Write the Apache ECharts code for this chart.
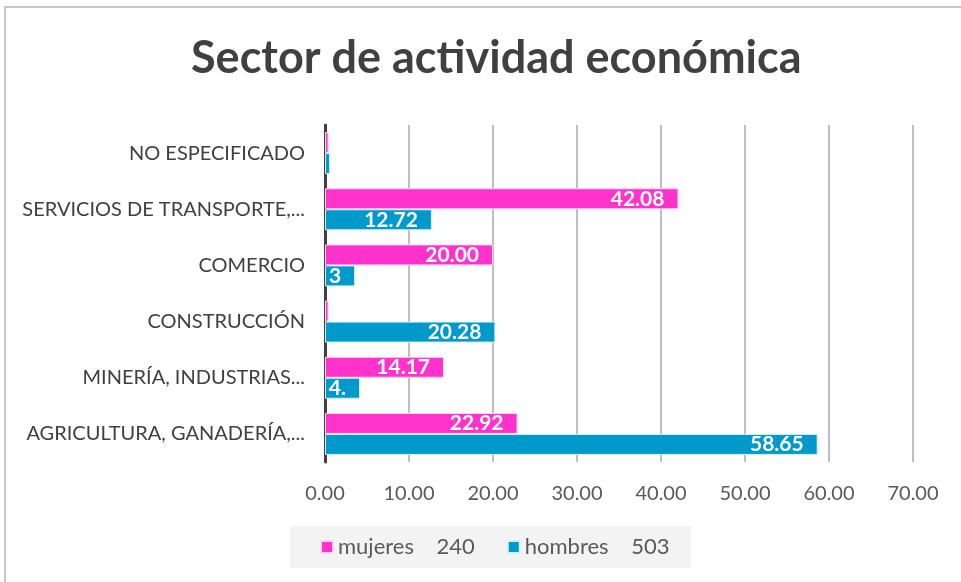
<!DOCTYPE html>
<html>
<head>
<meta charset="utf-8">
<script src="https://cdn.jsdelivr.net/npm/echarts@6/dist/echarts.min.js"></script>
<style>
  html, body { margin: 0; padding: 0; background: #fff; }
  #chart { width: 961px; height: 582px; }
</style>
</head>
<body>
<div id="chart"></div>
<script>
// sectors, bottom to top as on the axis
const sectores = [
  'AGRICULTURA, GANADERÍA,...',
  'MINERÍA, INDUSTRIAS...',
  'CONSTRUCCIÓN',
  'COMERCIO',
  'SERVICIOS DE TRANSPORTE,...',
  'NO ESPECIFICADO'
]
const mujeres = [22.92, 14.17, 0.42, 20.00, 42.08, 0.42]
const hombres = [58.65, 4.17, 20.28, 3.58, 12.72, 0.60]
const seriesNames = ['mujeres', 'hombres']
const totales = [240, 503]
const xTicks = [0, 10, 20, 30, 40, 50, 60, 70]

const FONT = 'Lato'
const gridLeft = 325
const gridRight = 48
const plotWidth = 961 - gridLeft - gridRight
const xMax = xTicks[xTicks.length - 1]

// excel cuts the label when it does not fit in the bar
const barData = (vals) => vals.map(v => ({
  value: v,
  label: {
    show: v >= 1,
    width: Math.max(v * plotWidth / xMax - 12, 0),
    overflow: 'truncate',
    ellipsis: ''
  }
}))

const chart = echarts.init(document.getElementById('chart'))

const labelStyle = {
  show: true,
  position: 'insideRight',
  distance: 14,
  color: '#fff',
  fontFamily: FONT,
  fontWeight: 'bold',
  fontSize: 21,
  align: 'right',
  formatter: p => p.value.toFixed(2)
}

const option = {
  animation: false,
  title: {
    text: 'Sector de actividad económica',
    left: 186,
    top: 31,
    textStyle: {
      fontFamily: FONT,
      fontWeight: 'bold',
      fontSize: 45,
      color: '#404040'
    }
  },
  graphic: [
    {
      type: 'rect',
      shape: { x: 5, y: 7, width: 1000, height: 620 },
      style: { fill: 'none', stroke: '#c8c8c8', lineWidth: 2 },
      silent: true
    }
  ],
  legend: {
    data: seriesNames,
    bottom: 14,
    left: 290,
    backgroundColor: '#f3f3f3',
    padding: [10, 22, 10, 30],
    icon: 'rect',
    itemWidth: 12,
    itemHeight: 12,
    itemGap: 32,
    formatter: name => name + '    ' + totales[seriesNames.indexOf(name)],
    textStyle: { fontFamily: FONT, fontSize: 22, color: '#595959' }
  },
  grid: {
    left: gridLeft,
    right: gridRight,
    top: 125,
    bottom: 120,
    containLabel: false
  },
  xAxis: {
    type: 'value',
    min: 0,
    max: xMax,
    interval: 10,
    axisLine: { show: false },
    axisTick: { show: false },
    splitLine: { lineStyle: { color: '#bfbfbf', width: 2 } },
    axisLabel: {
      margin: 22,
      fontFamily: FONT,
      fontSize: 20,
      color: '#595959',
      formatter: v => v.toFixed(2)
    }
  },
  yAxis: {
    type: 'category',
    data: sectores,
    axisTick: { show: false },
    axisLine: { lineStyle: { color: '#404040', width: 3 } },
    axisLabel: {
      margin: 20,
      fontFamily: FONT,
      fontSize: 20,
      color: '#404040'
    }
  },
  series: [
    {
      name: 'mujeres',
      type: 'bar',
      data: barData(mujeres),
      barWidth: 21,
      barGap: '0%',
      itemStyle: { color: '#ff33cc', borderColor: '#ffd6f5', borderWidth: 1 },
      label: labelStyle
    },
    {
      name: 'hombres',
      type: 'bar',
      data: barData(hombres),
      barWidth: 21,
      barGap: '0%',
      itemStyle: { color: '#0099cc', borderColor: '#d6f0fa', borderWidth: 1 },
      label: labelStyle
    }
  ]
}

chart.setOption(option)
</script>
</body>
</html>
